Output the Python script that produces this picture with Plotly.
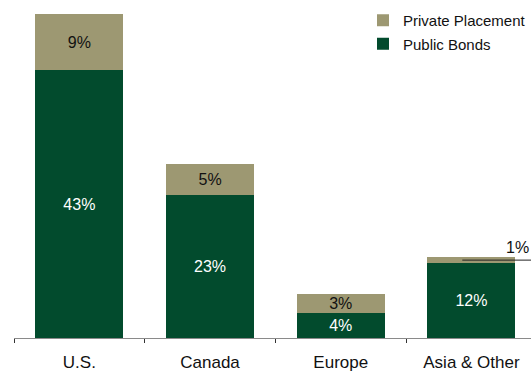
import plotly.graph_objects as go

# Share of issuance by region (%)
regions = ["U.S.", "Canada", "Europe", "Asia & Other"]
public_bonds = [43, 23, 4, 12]
private_placement = [9, 5, 3, 1]

# Segment labels; the 1% sliver is labelled with a callout instead
public_labels = [f"{v}%" for v in public_bonds]
private_labels = [f"{v}%" if v > 1 else "" for v in private_placement]
callout_region = "Asia & Other"
callout_value = private_placement[regions.index(callout_region)]

GREEN = "#024b2d"
TAN = "#9d9872"
FONT = "Arial, Liberation Sans, sans-serif"

fig = go.Figure()
fig.add_trace(go.Bar(
    x=regions, y=public_bonds, name="Public Bonds",
    marker=dict(color=GREEN, line=dict(width=0)),
    text=public_labels, textposition="inside", insidetextanchor="middle",
    textangle=0, constraintext="none",
    textfont=dict(family=FONT, size=16, color="white"),
    legendgroup="pb", legendrank=2, hoverinfo="skip",
))
fig.add_trace(go.Bar(
    x=regions, y=private_placement, name="Private Placement",
    marker=dict(color=TAN, line=dict(width=0)),
    text=private_labels, textposition="inside", insidetextanchor="middle",
    textangle=0, constraintext="none",
    textfont=dict(family=FONT, size=16, color="#111111"),
    legendgroup="pp", legendrank=1, hoverinfo="skip",
))

# Callout for the small Asia segment
i = regions.index(callout_region)
mid = public_bonds[i] + callout_value / 2
fig.add_shape(type="line", xref="x", yref="y",
              x0=i - 0.07, x1=i + 0.6, y0=mid, y1=mid,
              line=dict(color="#222222", width=1))
fig.add_annotation(x=i + 0.455, y=mid + 2.0, xref="x", yref="y",
                   text=f"{callout_value}%", showarrow=False,
                   xanchor="right", yanchor="middle",
                   font=dict(family=FONT, size=16, color="#111111"))

fig.update_layout(
    width=531, height=372,
    margin=dict(l=14, r=0, t=14, b=34),
    barmode="stack", bargap=0.327,
    plot_bgcolor="white", paper_bgcolor="white",
    font=dict(family=FONT, color="#111111"),
    showlegend=True,
    legend=dict(
        x=(363 - 14) / 517, y=1 + 10 / 324, xref="paper", yref="paper",
        xanchor="left", yanchor="top",
        traceorder="grouped", tracegroupgap=1,
        font=dict(family=FONT, size=15, color="#111111"),
        bgcolor="rgba(0,0,0,0)", itemwidth=30,
    ),
    xaxis=dict(
        range=[-0.5, -0.5 + 517 / 130.7],
        showline=True, linecolor="#8a8a8a", linewidth=1,
        ticks="outside", ticklen=4, tickcolor="#333333",
        tickson="boundaries", showgrid=False,
        ticklabelstandoff=9, automargin=False,
        tickfont=dict(family=FONT, size=17, color="#111111"),
        fixedrange=True,
    ),
    yaxis=dict(range=[0, 52], visible=False, showgrid=False, fixedrange=True),
)

fig.write_html("out.html")
